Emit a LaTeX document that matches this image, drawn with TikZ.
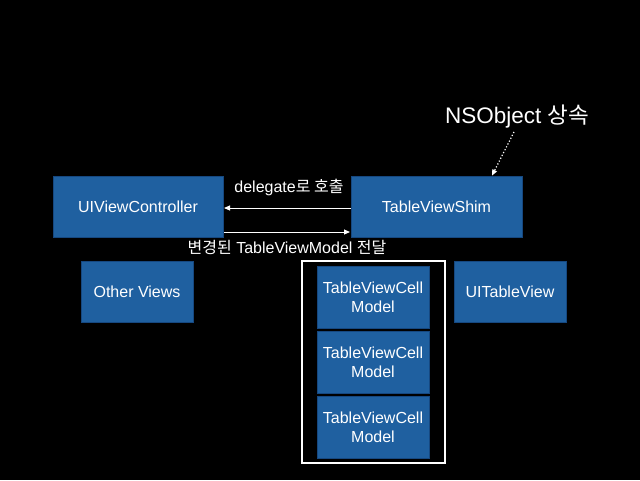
\documentclass[tikz,border=0pt]{standalone}
\usepackage{fontspec}
\setmainfont{Liberation Sans}
\newfontfamily\kr{Noto Sans CJK KR}
\usetikzlibrary{arrows.meta}
\definecolor{boxblue}{RGB}{31,96,160}
\definecolor{boxedge}{RGB}{22,72,128}
\tikzset{
  bluebox/.style={draw=boxedge, line width=0.8pt, fill=boxblue, text=white, inner sep=0pt, font=\fontsize{16}{19}\selectfont, align=center},
  lbl/.style={text=white, inner sep=0pt, font=\fontsize{16}{19}\selectfont},
  arr/.style={draw=white, line width=1pt, -{Triangle[length=6pt,width=5pt]}}
}
\begin{document}
\begin{tikzpicture}[x=1pt,y=-1pt]
\fill[black] (0,0) rectangle (640,480);
\useasboundingbox (0,0) rectangle (640,480);
% top row
\node[bluebox, minimum width=170pt, minimum height=61pt] (uivc) at (138,206.5) {UIViewController};
\node[bluebox, minimum width=171pt, minimum height=61pt] (shim) at (436.5,206.5) {TableViewShim};
% arrows
\coordinate (a1s) at (351,208);
\coordinate (a1e) at (224,208);
\draw[arr] (a1s) -- (a1e);
\coordinate (a2s) at (224,232);
\coordinate (a2e) at (350,232);
\draw[arr] (a2s) -- (a2e);
\node[lbl] (del) at (289,187) {delegate{\kr 로 호출}};
\node[lbl] (chg) at (287,247) {{\kr 변경된} TableViewModel {\kr 전달}};
% second row
\node[bluebox, minimum width=112pt, minimum height=61pt] (other) at (137,291.5) {Other Views};
\node[draw=white, line width=1.2pt, minimum width=143pt, minimum height=202pt, inner sep=0pt] (frame) at (373.5,362) {};
\node[bluebox, minimum width=112pt, minimum height=62pt] (c1) at (373,297) {TableViewCell\\Model};
\node[bluebox, minimum width=112pt, minimum height=62pt] (c2) at (373,362) {TableViewCell\\Model};
\node[bluebox, minimum width=112pt, minimum height=62pt] (c3) at (373,427) {TableViewCell\\Model};
\node[bluebox, minimum width=112pt, minimum height=61pt] (uitv) at (510,291.5) {UITableView};
% NSObject
\node[text=white, inner sep=0pt, font=\fontsize{22.5}{26}\selectfont] (nso) at (517,117) {NSObject {\kr 상속}};
\coordinate (ds) at (514,132);
\draw[draw=white, line width=1.2pt, dotted, -{Triangle[length=6pt,width=5pt]}] (ds) -- (shim.north west -| 492,0);
\end{tikzpicture}
\end{document}
